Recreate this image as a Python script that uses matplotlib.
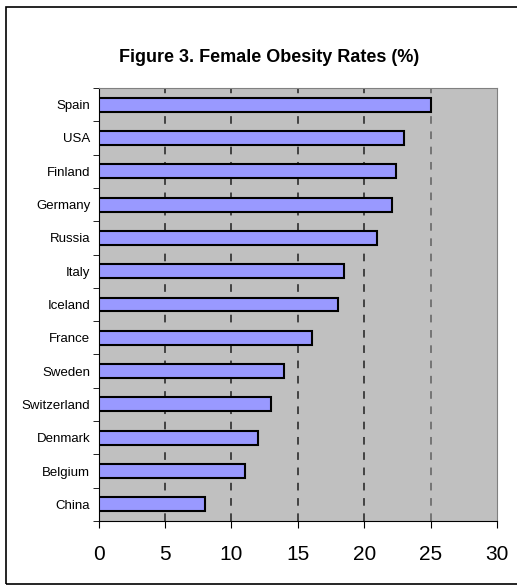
import matplotlib.pyplot as plt
from matplotlib.patches import Rectangle

countries = ['Spain', 'USA', 'Finland', 'Germany', 'Russia', 'Italy', 'Iceland',
             'France', 'Sweden', 'Switzerland', 'Denmark', 'Belgium', 'China']
rates = [25.0, 23.0, 22.4, 22.1, 21.0, 18.5, 18.0, 16.1, 14.0, 13.0, 12.0, 11.0, 8.0]
xticks = [0, 5, 10, 15, 20, 25, 30]

plt.rcParams['font.family'] = ['Liberation Sans', 'DejaVu Sans']

fig = plt.figure(figsize=(5.17, 5.88), dpi=100)
fig.patches.append(Rectangle((6 / 517, 4 / 588), 1.2, 577 / 588, transform=fig.transFigure,
                             fill=False, edgecolor='black', linewidth=1.2))

ax = fig.add_axes([98.5 / 517, 1 - 521 / 588, 398.5 / 517, 433 / 588])
ax.set_facecolor('#c0c0c0')

y = list(range(len(countries)))
ax.barh(y, rates, height=0.42, color='#9999ff', edgecolor='black', linewidth=1.5, zorder=3)
ax.set_ylim(len(countries) - 0.5, -0.5)
ax.set_xlim(0, 30)

# dashed vertical gridlines behind the bars
for v in xticks[1:-1]:
    ax.axvline(v, color='#202020' if v < 25 else '#606060', linestyle=(0, (5, 5)),
               linewidth=1.1, zorder=1)

ax.set_yticks(y)
ax.set_yticklabels(countries, fontsize=9.5)
ax.set_yticks([i + 0.5 for i in range(-1, len(countries))], minor=True)
ax.tick_params(axis='y', which='major', length=0, pad=6)
ax.tick_params(axis='y', which='minor', length=4, direction='out')

ax.set_xticks(xticks)
ax.set_xticklabels([str(v) for v in xticks], fontsize=15)
ax.tick_params(axis='x', length=5, direction='out', pad=12)

for s in ['top', 'right']:
    ax.spines[s].set_color('#808080')
for s in ['left', 'bottom']:
    ax.spines[s].set_color('black')

fig.text(269 / 517, 1 - 57 / 588, 'Figure 3. Female Obesity Rates (%)', ha='center', va='center',
         fontsize=13, fontweight='bold')

plt.savefig('out.png', dpi=100)
